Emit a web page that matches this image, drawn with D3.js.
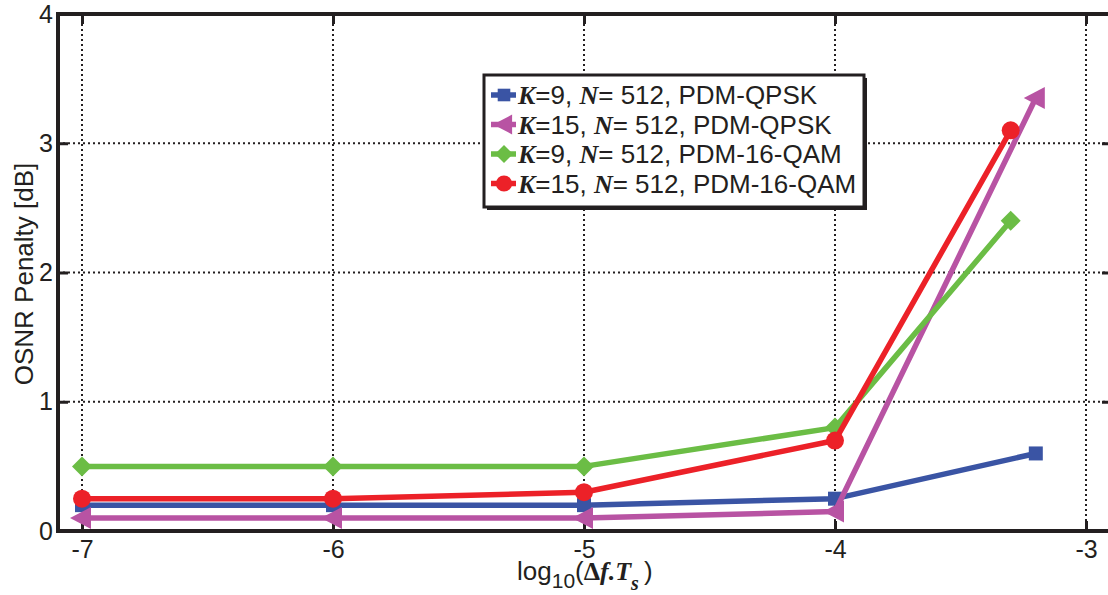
<!DOCTYPE html>
<html>
<head>
<meta charset="utf-8">
<script src="https://cdn.jsdelivr.net/npm/d3@7"></script>
<style>
  body { margin: 0; background: #fff; overflow: hidden; }
  svg text { font-family: "Liberation Sans", Arial, sans-serif; fill: #231f20; }
</style>
</head>
<body>
<div id="chart"></div>
<script>
// data
const xTicks = [-7, -6, -5, -4, -3];
const yTicks = [0, 1, 2, 3, 4];

const xQpsk9 = [-7, -6, -5, -4, -3.2];
const yQpsk9 = [0.2, 0.2, 0.2, 0.25, 0.6];

const xQpsk15 = [-7, -6, -5, -4, -3.2];
const yQpsk15 = [0.1, 0.1, 0.1, 0.15, 3.35];

const xQam9 = [-7, -6, -5, -4, -3.3];
const yQam9 = [0.5, 0.5, 0.5, 0.8, 2.4];

const xQam15 = [-7, -6, -5, -4, -3.3];
const yQam15 = [0.25, 0.25, 0.3, 0.7, 3.1];

const seriesNames = ['PDM-QPSK', 'PDM-QPSK', 'PDM-16-QAM', 'PDM-16-QAM'];
const seriesK = [9, 15, 9, 15];

const series = [
    { k: seriesK[0], mod: seriesNames[0], xs: xQpsk9, ys: yQpsk9, color: '#3a54a4', marker: 'square' },
    { k: seriesK[1], mod: seriesNames[1], xs: xQpsk15, ys: yQpsk15, color: '#b853a3', marker: 'triangle' },
    { k: seriesK[2], mod: seriesNames[2], xs: xQam9, ys: yQam9, color: '#6bbd45', marker: 'diamond' },
    { k: seriesK[3], mod: seriesNames[3], xs: xQam15, ys: yQam15, color: '#ec2128', marker: 'circle' }
];

const width = 1108, height = 595;
const plotLeft = 58, plotRight = 1112, plotTop = 14, plotBottom = 531;
const serif = '"Liberation Serif", "Times New Roman", serif';

const svg = d3.select('#chart').append('svg')
    .attr('width', width)
    .attr('height', height);

const x = d3.scaleLinear().domain([-7, -3]).range([82, 1086]);
const y = d3.scaleLinear().domain([0, 4]).range([plotBottom, plotTop]);

// grid, dotted
const grid = svg.append('g');
grid.selectAll('line.vg')
    .data(xTicks)
    .enter().append('line')
    .attr('x1', d => x(d)).attr('x2', d => x(d))
    .attr('y1', plotTop).attr('y2', plotBottom)
    .attr('stroke', '#231f20')
    .attr('stroke-width', 2)
    .attr('stroke-dasharray', '2,3');
grid.selectAll('line.hg')
    .data(yTicks.slice(1, 4))
    .enter().append('line')
    .attr('x1', plotLeft).attr('x2', plotRight)
    .attr('y1', d => y(d)).attr('y2', d => y(d))
    .attr('stroke', '#231f20')
    .attr('stroke-width', 2)
    .attr('stroke-dasharray', '2,3');

// axes, ticks inward
const xAxis = svg.append('g')
    .attr('transform', `translate(0,${plotBottom})`)
    .call(d3.axisBottom(x).tickValues(xTicks).tickSize(-10).tickPadding(9).tickFormat(d => String(d)));
const xAxisTop = svg.append('g')
    .attr('transform', `translate(0,${plotTop})`)
    .call(d3.axisTop(x).tickValues(xTicks).tickSize(-10).tickFormat(''));
const yAxis = svg.append('g')
    .attr('transform', `translate(${plotLeft},0)`)
    .call(d3.axisLeft(y).tickValues(yTicks).tickSize(-10).tickPadding(5).tickFormat(d => String(d)));
const yAxisRight = svg.append('g')
    .attr('transform', `translate(${plotRight},0)`)
    .call(d3.axisRight(y).tickValues(yTicks).tickSize(-10).tickFormat(''));

[xAxis, xAxisTop, yAxis, yAxisRight].forEach(g => {
    g.select('.domain').remove();
    g.selectAll('.tick line').attr('stroke', '#231f20').attr('stroke-width', 3);
    g.selectAll('.tick text').style('font-size', '25px').attr('fill', '#231f20');
});

// frame
svg.append('rect')
    .attr('x', plotLeft).attr('y', plotTop)
    .attr('width', plotRight - plotLeft).attr('height', plotBottom - plotTop)
    .attr('fill', 'none')
    .attr('stroke', '#231f20')
    .attr('stroke-width', 4);

// lines
const line = d3.line().x(d => x(d[0])).y(d => y(d[1]));

function drawMarker(g, type, cx, cy, color, s) {
    s = s || 1;
    if (type === 'square') {
        g.append('rect').attr('x', cx - 7 * s).attr('y', cy - 7 * s)
            .attr('width', 14 * s).attr('height', 14 * s).attr('fill', color);
    } else if (type === 'circle') {
        g.append('circle').attr('cx', cx).attr('cy', cy).attr('r', 9 * s).attr('fill', color);
    } else if (type === 'diamond') {
        g.append('path')
            .attr('d', `M${cx},${cy - 10 * s}L${cx + 10 * s},${cy}L${cx},${cy + 10 * s}L${cx - 10 * s},${cy}Z`)
            .attr('fill', color);
    } else if (type === 'triangle') {
        g.append('path')
            .attr('d', `M${cx - 12 * s},${cy}L${cx + 9 * s},${cy - 11 * s}L${cx + 9 * s},${cy + 11 * s}Z`)
            .attr('fill', color);
    }
}

series.forEach(s => {
    const pts = s.xs.map((v, i) => [v, s.ys[i]]);
    const g = svg.append('g');
    g.append('path')
        .datum(pts)
        .attr('d', line)
        .attr('fill', 'none')
        .attr('stroke', s.color)
        .attr('stroke-width', 5.5)
        .attr('stroke-linejoin', 'round');
    pts.forEach(p => drawMarker(g, s.marker, x(p[0]), y(p[1]), s.color));
});

// legend
const lg = svg.append('g').attr('transform', 'translate(484,75)');
lg.append('rect')
    .attr('x', 3).attr('y', 3).attr('width', 380).attr('height', 132)
    .attr('fill', '#231f20');
lg.append('rect')
    .attr('x', 0).attr('y', 0).attr('width', 380).attr('height', 132)
    .attr('fill', '#fff').attr('stroke', '#231f20').attr('stroke-width', 3);

series.forEach((s, i) => {
    const ry = 20 + i * 29.5;
    lg.append('line')
        .attr('x1', 7).attr('x2', 32).attr('y1', ry).attr('y2', ry)
        .attr('stroke', s.color).attr('stroke-width', 5.5);
    drawMarker(lg, s.marker, 20, ry, s.color, 0.9);
    const t = lg.append('text')
        .attr('x', 34).attr('y', ry + 9)
        .style('font-size', '26px');
    t.append('tspan').text('K')
        .style('font-family', serif)
        .style('font-style', 'italic').style('font-weight', 'bold');
    t.append('tspan').text(`=${s.k}, `);
    t.append('tspan').text('N')
        .style('font-family', serif)
        .style('font-style', 'italic').style('font-weight', 'bold');
    t.append('tspan').text(`= 512, ${s.mod}`);
});

// axis titles
svg.append('text')
    .attr('transform', 'translate(33,274) rotate(-90)')
    .attr('text-anchor', 'middle')
    .style('font-size', '26px')
    .text('OSNR Penalty [dB]');

const xl = svg.append('text')
    .attr('x', 517).attr('y', 580)
    .style('font-size', '26px');
xl.append('tspan').text('log');
xl.append('tspan').text('10').attr('dy', 8).style('font-size', '21px');
xl.append('tspan').text('(').attr('dy', -8);
xl.append('tspan').text('Δ').style('font-family', serif).style('font-weight', 'bold');
xl.append('tspan').text('f.T').style('font-family', serif).style('font-weight', 'bold').style('font-style', 'italic');
xl.append('tspan').text('s').attr('dy', 10).style('font-family', serif)
    .style('font-weight', 'bold').style('font-style', 'italic').style('font-size', '20px');
xl.append('tspan').text(')').attr('dy', -10).attr('dx', 5);
</script>
</body>
</html>
